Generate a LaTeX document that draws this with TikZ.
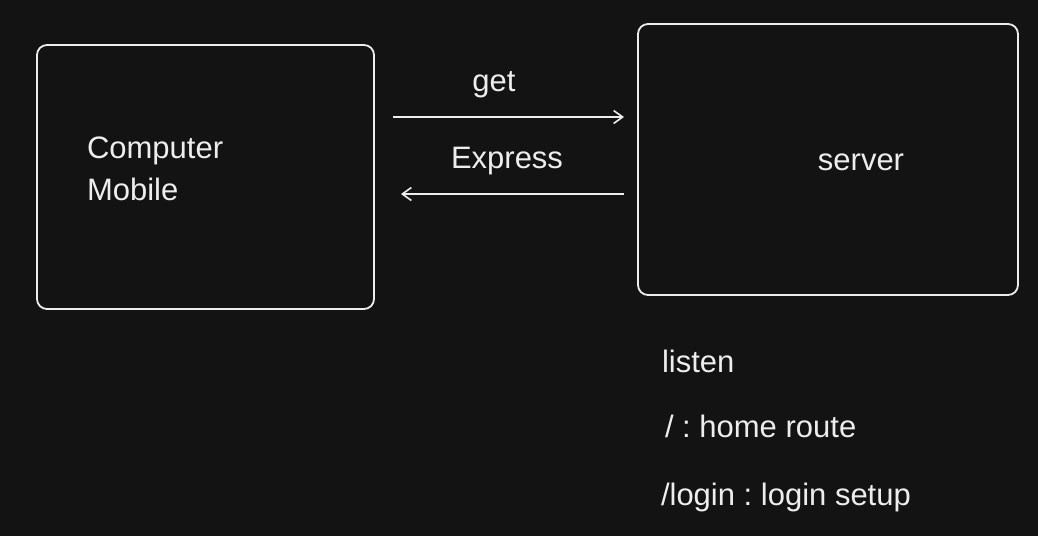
\documentclass[tikz,border=0pt]{standalone}
\usepackage{fontspec}
\setmainfont{Liberation Sans}
\usetikzlibrary{arrows.meta}
\definecolor{bg}{HTML}{131313}
\definecolor{ink}{HTML}{EDEDED}
\frenchspacing
\begin{document}
\begin{tikzpicture}[x=1pt,y=-1pt,
  box/.style={draw=ink,line width=1.8pt,rounded corners=10pt},
  lbl/.style={text=ink,font=\fontsize{31}{42}\selectfont,inner sep=0pt,outer sep=0pt},
  conn/.style={draw=ink,line width=1.6pt,-{Straight Barb[length=9pt,width=13pt,line width=1.6pt]}}]
\fill[bg] (0,0) rectangle (1038,536);
\useasboundingbox (0,0) rectangle (1038,536);
\draw[box] (37,45) rectangle (374,309);
\draw[box] (638,24) rectangle (1018,295);
\node[lbl,anchor=base west] (comp) at (87,158) {Computer};
\node[lbl,anchor=base west] (mob) at (87,200) {Mobile};
\node[lbl,anchor=base] (srv) at (861,170) {server};
\coordinate (a1s) at (393,117);
\coordinate (a1e) at (624,117);
\coordinate (a2s) at (624,194);
\coordinate (a2e) at (401,194);
\draw[conn] (a1s) -- (a1e);
\draw[conn] (a2s) -- (a2e);
\node[lbl,anchor=base] (get) at (494,91) {get};
\node[lbl,anchor=base] (exp) at (507,168) {Express};
\node[lbl,anchor=base west] (lis) at (662,372) {listen};
\node[lbl,anchor=base west] (home) at (665,437) {/ : home route};
\node[lbl,anchor=base west] (login) at (661,505) {/login : login setup};
\end{tikzpicture}
\end{document}
